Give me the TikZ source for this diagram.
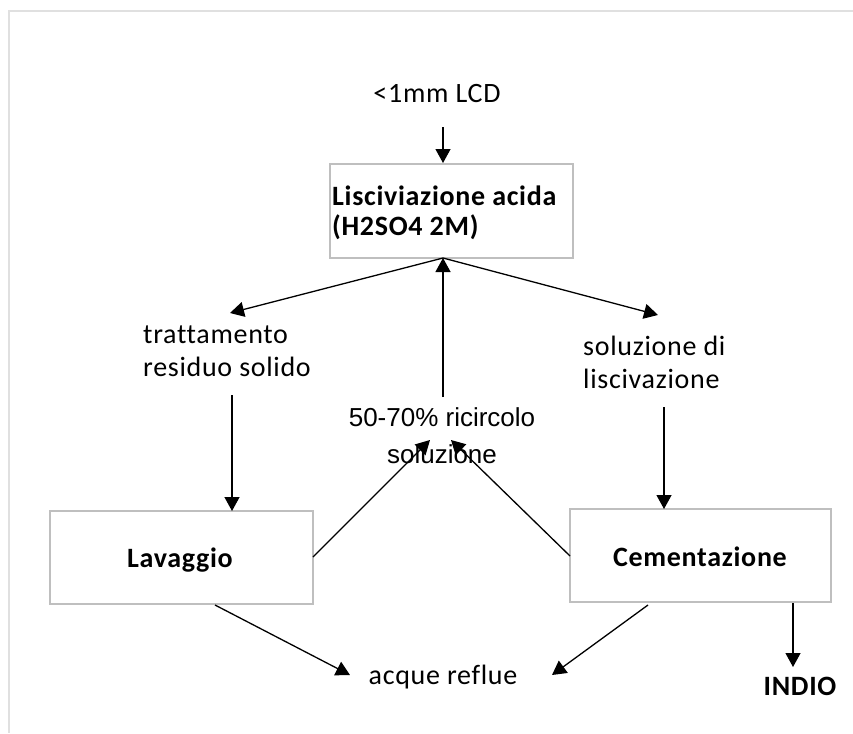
\documentclass[tikz,border=0pt]{standalone}
\usepackage{fontspec}
\setmainfont{Carlito}[Ligatures=NoCommon,LetterSpace=2.5]
\newfontfamily\arialish{Liberation Sans}
\usetikzlibrary{arrows.meta}
\definecolor{boxgray}{HTML}{BFBFBF}
\definecolor{framegray}{HTML}{E0E0E0}
\begin{document}
\begin{tikzpicture}[x=1pt,y=-1pt,
  procbox/.style={draw=boxgray,line width=1.6pt,fill=white,inner sep=0pt},
  lbl/.style={inner sep=0pt,font=\fontsize{28}{33}\selectfont},
  blbl/.style={inner sep=0pt,font=\fontsize{28}{30}\selectfont\bfseries},
  flow/.style={line width=1.3pt,-{Triangle[length=14pt,width=15pt]}}]
\useasboundingbox (0,0) rectangle (853,733);
% page frame (top and left edges)
\draw[framegray,line width=2pt] (853,11) -- (8.5,11) -- (8.5,733);

% process boxes
\node[procbox,minimum width=243pt,minimum height=94pt] (leach) at (451.5,211) {};
\node[blbl,anchor=west,align=left] (leachtxt) at (332,213)
  {Lisciviazione acida\\(H2SO4 2M)};
\node[procbox,minimum width=263pt,minimum height=93pt] (wash) at (181.5,557.5) {};
\node[blbl] (washtxt) at (180,560) {Lavaggio};
\node[procbox,minimum width=261pt,minimum height=93pt] (cem) at (700.5,555.5) {};
\node[blbl] (cemtxt) at (700,557) {Cementazione};

% free labels
\node[lbl] (lcd) at (437,94) {<1mm LCD};
\node[lbl,anchor=west,align=left] (residue) at (143,351) {trattamento\\residuo solido};
\node[lbl,anchor=west,align=left] (solution) at (583,362) {soluzione di\\liscivazione};
\node[inner sep=0pt,align=center,font=\arialish\fontsize{26}{37}\selectfont] (recycle) at (442,436)
  {50-70\% ricircolo\\soluzione};
\node[lbl] (waste) at (443,677) {acque reflue};
\node[blbl] (indio) at (800,686) {INDIO};

% connector end points
\coordinate (lcdout) at (443,127);
\coordinate (leachtop) at (443,163);
\coordinate (apex) at (443,258);
\coordinate (resin) at (230,313);
\coordinate (solin) at (658,315);
\coordinate (recout) at (443,397);
\coordinate (resout) at (232,395);
\coordinate (washin) at (232,511);
\coordinate (solout) at (664,407);
\coordinate (cemin) at (664,509);
\coordinate (washr) at (313,557);
\coordinate (recinl) at (430,440);
\coordinate (cemlft) at (570,556);
\coordinate (recinr) at (451,440);
\coordinate (washb) at (215,605);
\coordinate (wastel) at (350,675);
\coordinate (cemb) at (648,605);
\coordinate (waster) at (552,675);
\coordinate (cemout) at (793,603);
\coordinate (indioin) at (793,667);

% connectors
\draw[flow] (lcdout) -- (leachtop);
\draw[flow] (apex) -- (resin);
\draw[flow] (apex) -- (solin);
\draw[flow] (recout) -- (apex);
\draw[flow] (resout) -- (washin);
\draw[flow] (solout) -- (cemin);
\draw[flow] (washr) -- (recinl);
\draw[flow] (cemlft) -- (recinr);
\draw[flow] (washb) -- (wastel);
\draw[flow] (cemb) -- (waster);
\draw[flow] (cemout) -- (indioin);
\end{tikzpicture}
\end{document}
